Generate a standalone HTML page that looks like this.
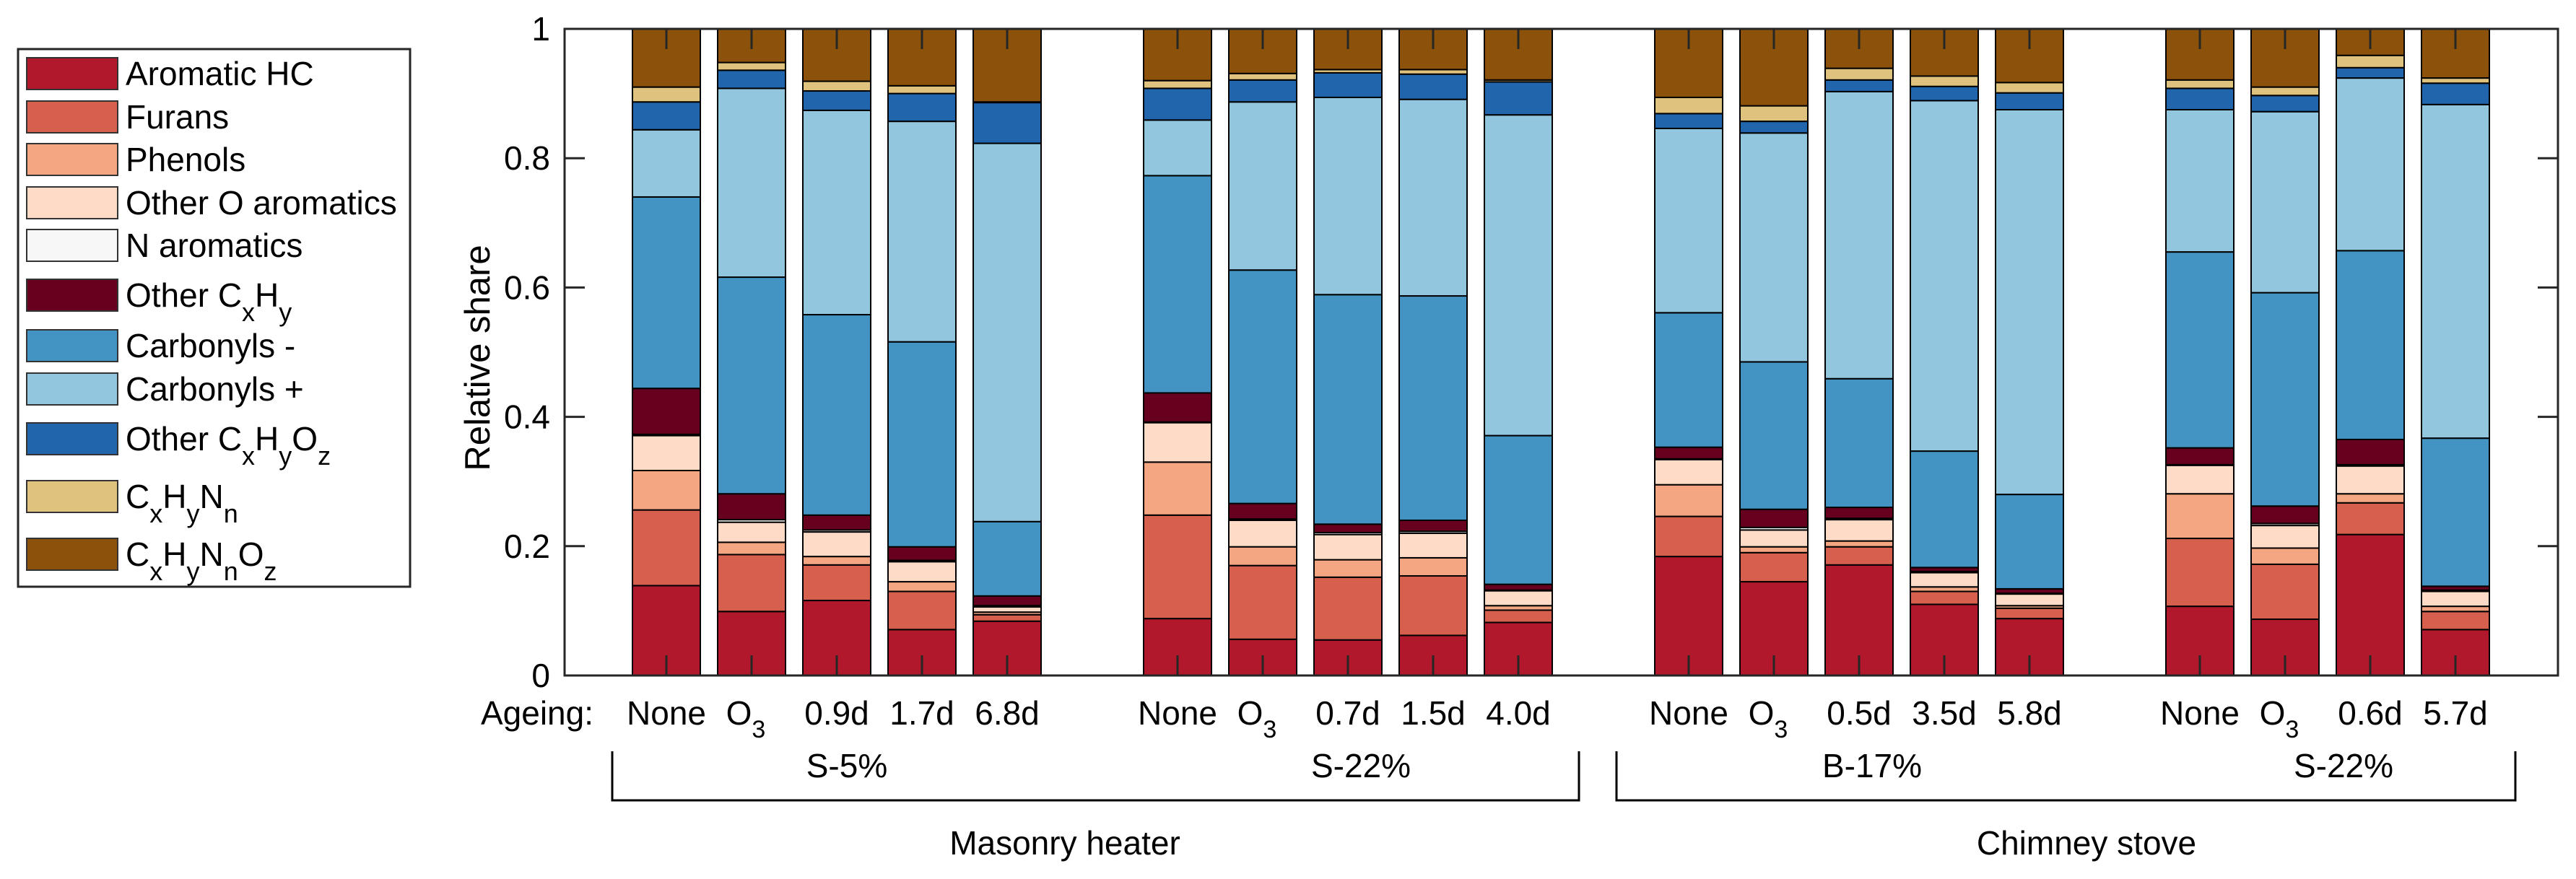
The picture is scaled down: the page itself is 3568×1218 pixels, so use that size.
<!DOCTYPE html>
<html><head><meta charset="utf-8"><style>
html,body{margin:0;padding:0;background:#fff;}
svg{display:block;font-family:"Liberation Sans",Arial,sans-serif;}
</style></head><body>
<svg id="chart" width="3568" height="1218" viewBox="0 0 3568 1218" xmlns="http://www.w3.org/2000/svg">
<g id="legend"></g>
<g id="bars"></g>
<g id="axes"></g>
<g id="labels"></g>
</svg>
<script>
const categories = ["None","O3","0.9d","1.7d","6.8d","None","O3","0.7d","1.5d","4.0d","None","O3","0.5d","3.5d","5.8d","None","O3","0.6d","5.7d"];
const slots = [0,1,2,3,4,6,7,8,9,10,12,13,14,15,16,18,19,20,21];
const seriesNames = ["Aromatic HC","Furans","Phenols","Other O aromatics","N aromatics","Other CxHy","Carbonyls -","Carbonyls +","Other CxHyOz","CxHyNn","CxHyNnOz"];
const aromaticHC = [0.139,0.099,0.116,0.071,0.084,0.088,0.056,0.055,0.062,0.082,0.184,0.145,0.171,0.110,0.088,0.107,0.087,0.218,0.071];
const furans = [0.117,0.088,0.055,0.059,0.010,0.160,0.114,0.097,0.092,0.019,0.062,0.045,0.028,0.020,0.016,0.105,0.085,0.049,0.028];
const phenols = [0.061,0.019,0.013,0.015,0.004,0.082,0.029,0.027,0.028,0.007,0.049,0.009,0.009,0.007,0.004,0.069,0.025,0.014,0.008];
const otherOArom = [0.054,0.031,0.038,0.031,0.008,0.061,0.041,0.039,0.038,0.023,0.039,0.026,0.033,0.022,0.018,0.044,0.035,0.043,0.023];
const nArom = [0.002,0.004,0.003,0.002,0.002,0.001,0.002,0.003,0.003,0.001,0.001,0.004,0.002,0.002,0.001,0.001,0.003,0.002,0.002];
const otherCxHy = [0.071,0.040,0.023,0.021,0.015,0.045,0.024,0.013,0.017,0.009,0.018,0.028,0.017,0.006,0.007,0.026,0.027,0.039,0.006];
const carbMinus = [0.296,0.335,0.310,0.317,0.115,0.336,0.361,0.355,0.347,0.230,0.208,0.228,0.199,0.180,0.146,0.303,0.330,0.292,0.229];
const carbPlus = [0.104,0.292,0.316,0.341,0.585,0.086,0.260,0.305,0.304,0.496,0.285,0.354,0.444,0.542,0.595,0.220,0.280,0.267,0.516];
const otherCHO = [0.043,0.028,0.030,0.043,0.063,0.049,0.034,0.038,0.039,0.051,0.023,0.018,0.018,0.022,0.026,0.033,0.025,0.016,0.033];
const cxhynn = [0.023,0.012,0.015,0.012,0.001,0.012,0.010,0.005,0.007,0.003,0.025,0.024,0.018,0.016,0.016,0.013,0.013,0.019,0.008];
const cxhynnoz = [0.090,0.052,0.081,0.088,0.113,0.080,0.069,0.063,0.063,0.079,0.106,0.119,0.061,0.073,0.083,0.079,0.090,0.041,0.076];
const yTicks = [0,0.2,0.4,0.6,0.8,1];
const yTickLabels = ["0","0.2","0.4","0.6","0.8","1"];

const series = [aromaticHC,furans,phenols,otherOArom,nArom,otherCxHy,carbMinus,carbPlus,otherCHO,cxhynn,cxhynnoz];
const colors = ["#B2182B","#D6604D","#F4A582","#FDDBC7","#F7F7F7","#67001F","#4393C3","#92C5DE","#2166AC","#DFC27D","#8C510A"];
const NS="http://www.w3.org/2000/svg";
const L=782,R=3543,T=40,B=936;
const x0=923,unit=118,bw=94;
function xs(s){return x0+s*unit;}
function ys(v){return B-v*(B-T);}
function mk(tag,attrs,parent){const e=document.createElementNS(NS,tag);for(const k in attrs)e.setAttribute(k,attrs[k]);parent.appendChild(e);return e;}
function slug(s){return s.toLowerCase().replace(/[^a-z0-9]+/g,'-').replace(/-+$/,'');}

const gb=document.getElementById('bars');
categories.forEach((c,i)=>{
  let acc=0;const cx=xs(slots[i]);
  series.forEach((arr,k)=>{
    const v=arr[i];
    const r=mk('rect',{x:cx-bw/2,y:ys(acc+v),width:bw,height:ys(acc)-ys(acc+v),fill:colors[k],stroke:'#000','stroke-width':2},gb);
    
    
    acc+=v;
  });
});

const ga=document.getElementById('axes');
const frame=mk('rect',{x:L,y:T,width:R-L,height:B-T,fill:'none',stroke:'#262626','stroke-width':3},ga);


yTicks.forEach((t,i)=>{
  const y=ys(t);
  mk('line',{x1:L,x2:L+28,y1:y,y2:y,stroke:'#262626','stroke-width':3},ga);
  mk('line',{x1:R,x2:R-28,y1:y,y2:y,stroke:'#262626','stroke-width':3},ga);
  const tx=mk('text',{x:762,y:y+16,'text-anchor':'end','font-size':46,fill:'#000'},ga);
  tx.textContent=yTickLabels[i];
  
  
});
slots.forEach(s=>{
  const x=xs(s);
  mk('line',{x1:x,x2:x,y1:B,y2:B-28,stroke:'#262626','stroke-width':3},ga);
  mk('line',{x1:x,x2:x,y1:T,y2:T+28,stroke:'#262626','stroke-width':3},ga);
});
const yt=mk('text',{x:0,y:0,transform:'translate(678,496) rotate(-90)','text-anchor':'middle','font-size':49,fill:'#000'},ga);
yt.textContent='Relative share';



const gl=document.getElementById('labels');
const ag=mk('text',{x:822,y:1004,'text-anchor':'end','font-size':46},gl);
ag.textContent='Ageing:';


categories.forEach((c,i)=>{
  const x=xs(slots[i]);
  const t=mk('text',{x:x,y:1004,'text-anchor':'middle','font-size':46},gl);
  
  
  if(c==='O3'){t.setAttribute('x',x-8);t.innerHTML='O<tspan dy="18" font-size="34">3</tspan>';}
  else t.textContent=c;
});
function txt(s,x,y,name){const t=mk('text',{x:x,y:y,'text-anchor':'middle','font-size':46},gl);t.textContent=s;}
txt('S-5%',1173,1077,'group-label-s5');
txt('S-22%',1885,1077,'group-label-s22-masonry');
txt('B-17%',2593,1077,'group-label-b17');
txt('S-22%',3246,1077,'group-label-s22-chimney');
txt('Masonry heater',1475,1184,'masonry-heater-label');
txt('Chimney stove',2890,1184,'chimney-stove-label');
const b1=mk('path',{d:'M848 1041 V1109 H2187 V1041',fill:'none',stroke:'#000','stroke-width':3},gl);


const b2=mk('path',{d:'M2239 1041 V1109 H3484 V1041',fill:'none',stroke:'#000','stroke-width':3},gl);



const lg=document.getElementById('legend');
const lb=mk('rect',{x:25,y:68,width:543,height:745,fill:'#fff',stroke:'#262626','stroke-width':3},lg);


const lyc=[102,162,221,281,340,409,479,539,608,688,768];
const lhtml=['Aromatic HC','Furans','Phenols','Other O aromatics','N aromatics',
 'Other C<tspan dy="20" font-size="36">x</tspan><tspan dy="-20">H</tspan><tspan dy="20" font-size="36">y</tspan>',
 'Carbonyls -','Carbonyls +',
 'Other C<tspan dy="20" font-size="36">x</tspan><tspan dy="-20">H</tspan><tspan dy="20" font-size="36">y</tspan><tspan dy="-20">O</tspan><tspan dy="20" font-size="36">z</tspan>',
 'C<tspan dy="20" font-size="36">x</tspan><tspan dy="-20">H</tspan><tspan dy="20" font-size="36">y</tspan><tspan dy="-20">N</tspan><tspan dy="20" font-size="36">n</tspan>',
 'C<tspan dy="20" font-size="36">x</tspan><tspan dy="-20">H</tspan><tspan dy="20" font-size="36">y</tspan><tspan dy="-20">N</tspan><tspan dy="20" font-size="36">n</tspan><tspan dy="-20">O</tspan><tspan dy="20" font-size="36">z</tspan>'];
seriesNames.forEach((n,k)=>{
  const g=mk('g',{},lg);
  
  
  mk('rect',{x:37,y:lyc[k]-22,width:126,height:44,fill:colors[k],stroke:'#333','stroke-width':2},g);
  const t=mk('text',{x:174,y:lyc[k]+16,'font-size':46},g);
  t.innerHTML=lhtml[k];
});
</script>
</body></html>
